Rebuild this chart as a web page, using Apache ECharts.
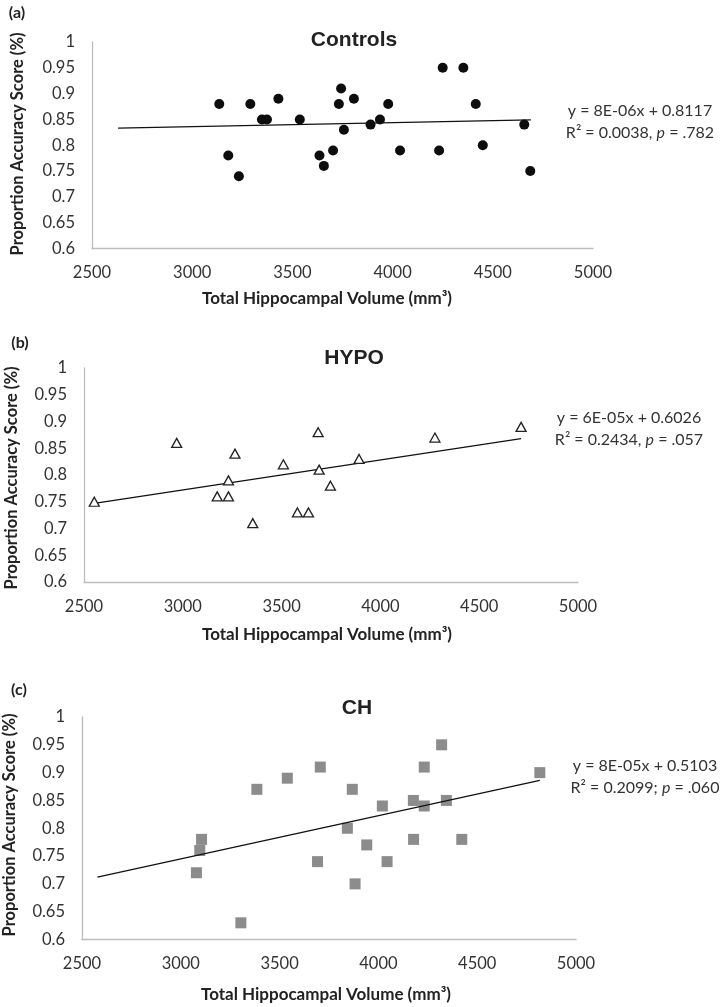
<!DOCTYPE html>
<html>
<head>
<meta charset="utf-8">
<script src="https://cdn.jsdelivr.net/npm/echarts@6/dist/echarts.min.js"></script>
<style>
  html, body { margin: 0; padding: 0; background: #fff; }
  #chart { width: 722px; height: 1007px; }
</style>
</head>
<body>
<div id="chart"></div>
<script>
// ---- Data ----
const xTicks = [2500, 3000, 3500, 4000, 4500, 5000];
const yTicks = [0.6, 0.65, 0.7, 0.75, 0.8, 0.85, 0.9, 0.95, 1];

// (a) Controls
const ctrlX = [3135, 3180, 3233, 3290, 3348, 3373, 3430, 3537, 3635, 3657, 3703, 3732, 3743, 3757, 3807,
               3890, 3937, 3978, 4037, 4232, 4250, 4353, 4415, 4450, 4657, 4687];
const ctrlY = [0.88, 0.78, 0.74, 0.88, 0.85, 0.85, 0.89, 0.85, 0.78, 0.76, 0.79, 0.88, 0.91, 0.83, 0.89,
               0.84, 0.85, 0.88, 0.79, 0.79, 0.95, 0.95, 0.88, 0.80, 0.84, 0.75];
const ctrlTrendX = [2630, 4690];
const ctrlTrendY = [0.833, 0.849];

// (b) HYPO
const hypoX = [2552, 2969, 3264, 3231, 3174, 3231, 3354, 3509, 3580, 3636, 3685, 3690, 3747, 3892, 4276, 4712];
const hypoY = [0.75, 0.86, 0.84, 0.79, 0.76, 0.76, 0.71, 0.82, 0.73, 0.73, 0.88, 0.81, 0.78, 0.83, 0.87, 0.89];
const hypoTrendX = [2552, 4712];
const hypoTrendY = [0.747, 0.868];

// (c) CH
const chX = [3079, 3096, 3105, 3304, 3385, 3539, 3706, 3692, 3843, 3868, 3882,
             3941, 4020, 4044, 4177, 4178, 4232, 4232, 4320, 4344, 4422, 4817];
const chY = [0.72, 0.76, 0.78, 0.63, 0.87, 0.89, 0.91, 0.74, 0.80, 0.87, 0.70,
             0.77, 0.84, 0.74, 0.85, 0.78, 0.91, 0.84, 0.95, 0.85, 0.78, 0.90];
const chTrendX = [2578, 4817];
const chTrendY = [0.712, 0.886];

const panelTitles = ['Controls', 'HYPO', 'CH'];
const panelTags = ['(a)', '(b)', '(c)'];
const eqLine1 = ['y = 8E-06x + 0.8117', 'y = 6E-05x + 0.6026', 'y = 8E-05x + 0.5103'];
const eqR2 = ['0.0038', '0.2434', '0.2099'];
const eqSep = [',', ',', ';'];
const eqP = ['.782', '.057', '.060'];
const xName = 'Total Hippocampal Volume (mm\u00B3)';
const yName = 'Proportion Accuracy Score (%)';

// ---- Build chart ----
const zip = (xs, ys) => xs.map((x, i) => [x, ys[i]]);
const FONT = 'Lato, "Open Sans", sans-serif';
const TXT = '#333';
const AXIS_COLOR = '#bdbdbd';

const grids = [
  { left: 92, top: 42, width: 501, height: 206.5 },
  { left: 84, top: 368, width: 494, height: 214 },
  { left: 82, top: 717, width: 494, height: 222.5 }
];

function xAxisCfg(i) {
  return {
    type: 'value', gridIndex: i, min: xTicks[0], max: xTicks[xTicks.length - 1],
    interval: xTicks[1] - xTicks[0],
    axisLine: { show: true, lineStyle: { color: AXIS_COLOR, width: 1.3 } },
    axisTick: { show: false }, splitLine: { show: false },
    axisLabel: { color: TXT, fontFamily: FONT, fontSize: 16.5, margin: 16,
      formatter: v => String(Math.round(v)) }
  };
}
function yAxisCfg(i) {
  return {
    type: 'value', gridIndex: i, min: yTicks[0], max: yTicks[yTicks.length - 1],
    interval: 0.05,
    axisLine: { show: true, lineStyle: { color: AXIS_COLOR, width: 1.3 } },
    axisTick: { show: false }, splitLine: { show: false },
    axisLabel: { color: TXT, fontFamily: FONT, fontSize: 16.5, margin: 17,
      formatter: v => String(Math.round(v * 100) / 100) }
  };
}

const trendStyle = { color: '#111', width: 1.3 };
const series = [
  { type: 'scatter', xAxisIndex: 0, yAxisIndex: 0, data: zip(ctrlX, ctrlY),
    symbol: 'circle', symbolSize: 10, itemStyle: { color: '#0d0d0d', opacity: 1 }, z: 3 },
  { type: 'line', xAxisIndex: 0, yAxisIndex: 0, data: zip(ctrlTrendX, ctrlTrendY),
    showSymbol: false, symbol: 'none', lineStyle: trendStyle, z: 2 },
  { type: 'scatter', xAxisIndex: 1, yAxisIndex: 1, data: zip(hypoX, hypoY),
    symbol: 'triangle', symbolSize: [10, 9],
    itemStyle: { color: '#fff', borderColor: '#222', borderWidth: 1.3, opacity: 1 }, z: 3 },
  { type: 'line', xAxisIndex: 1, yAxisIndex: 1, data: zip(hypoTrendX, hypoTrendY),
    showSymbol: false, symbol: 'none', lineStyle: trendStyle, z: 2 },
  { type: 'scatter', xAxisIndex: 2, yAxisIndex: 2, data: zip(chX, chY),
    symbol: 'rect', symbolSize: 11, itemStyle: { color: '#8c8c8c', opacity: 1 }, z: 3 },
  { type: 'line', xAxisIndex: 2, yAxisIndex: 2, data: zip(chTrendX, chTrendY),
    showSymbol: false, symbol: 'none', lineStyle: trendStyle, z: 4 }
];

// Text placements
const titlePos = [[354, 40], [354, 358], [357, 708]];
const tagPos = [[17, 13], [20, 343], [19, 690]];
const eqPos = [[640, 111, 133], [629, 418, 440], [645, 766, 788]];
const xNamePos = [[327, 299], [327, 635], [326, 995]];
const yNamePos = [[18, 144], [12, 478], [10, 825]];

const graphics = [];
for (let i = 0; i < 3; i++) {
  graphics.push({ type: 'text', x: titlePos[i][0], y: titlePos[i][1],
    style: { text: panelTitles[i], fill: '#222', font: 'bold 21px "Liberation Sans", Arial, sans-serif',
      textAlign: 'center', textVerticalAlign: 'middle' } });
  graphics.push({ type: 'text', x: tagPos[i][0], y: tagPos[i][1],
    style: { text: panelTags[i], fill: '#222', font: 'bold 16px ' + FONT,
      textAlign: 'center', textVerticalAlign: 'middle' } });
  graphics.push({ type: 'text', x: eqPos[i][0], y: eqPos[i][1],
    style: { text: eqLine1[i], fill: TXT, font: '16px ' + FONT,
      textAlign: 'center', textVerticalAlign: 'middle' } });
  graphics.push({ type: 'text', x: eqPos[i][0], y: eqPos[i][2],
    style: { text: 'R\u00B2 = ' + eqR2[i] + eqSep[i] + ' {it|p} = ' + eqP[i],
      rich: { it: { fontStyle: 'italic', fontFamily: FONT, fontSize: 16, fill: TXT } },
      fill: TXT, font: '16px ' + FONT,
      textAlign: 'center', textVerticalAlign: 'middle' } });
  graphics.push({ type: 'text', x: xNamePos[i][0], y: xNamePos[i][1],
    style: { text: xName, fill: '#222', font: 'bold 17px ' + FONT,
      textAlign: 'center', textVerticalAlign: 'middle' } });
  graphics.push({ type: 'text', x: yNamePos[i][0], y: yNamePos[i][1], rotation: Math.PI / 2,
    style: { text: yName, fill: '#222', font: 'bold 16.5px ' + FONT,
      textAlign: 'center', textVerticalAlign: 'middle' } });
}

const chart = echarts.init(document.getElementById('chart'), null, { renderer: 'canvas' });
chart.setOption({
  animation: false,
  backgroundColor: '#fff',
  grid: grids,
  xAxis: [0, 1, 2].map(xAxisCfg),
  yAxis: [0, 1, 2].map(yAxisCfg),
  series: series,
  graphic: graphics
});
</script>
</body>
</html>
